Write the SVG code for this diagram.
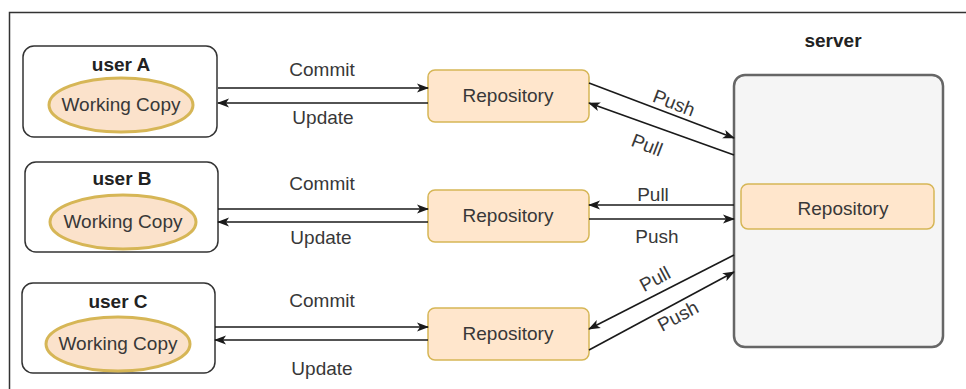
<svg xmlns="http://www.w3.org/2000/svg" width="966" height="389" viewBox="0 0 966 389">
  <style>
    .frame { fill: none; stroke: #333333; stroke-width: 1.5; }
    .user { fill: #ffffff; stroke: #333333; stroke-width: 1.5; }
    .wc { fill: #fbe2cb; stroke: #d6b656; stroke-width: 3; }
    .repo { fill: #ffe6cc; stroke: #d6b656; stroke-width: 1.5; }
    .server { fill: #f5f5f5; stroke: #666666; stroke-width: 2.5; }
    .edge { fill: none; stroke: #1a1a1a; stroke-width: 1.6; marker-end: url(#arrow); }
    text { font-family: "Liberation Sans", Arial, sans-serif; font-size: 19px; fill: #383838; text-anchor: middle; }
    .title { font-weight: bold; fill: #222222; }
  </style>
  <defs>
    <marker id="arrow" markerUnits="userSpaceOnUse" viewBox="0 0 12 10" refX="11" refY="5" markerWidth="12" markerHeight="10" orient="auto">
      <path d="M0,0.5 L12,5 L0,9.5 L3,5 Z" fill="#1a1a1a"/>
    </marker>
  </defs>

  <rect width="966" height="389" fill="#ffffff"/>
  <!-- page frame: top and left edges only -->
  <path class="frame" d="M9.5,389 V12.5 H966"/>

  <g id="userA">
    <rect class="user" x="23" y="46" width="194" height="91" rx="11"/>
    <text class="title" x="121" y="71">user A</text>
    <ellipse class="wc" cx="121" cy="105" rx="72" ry="27"/>
    <text x="121" y="111">Working Copy</text>
  </g>
  <g id="userB">
    <rect class="user" x="25" y="162" width="193" height="90" rx="11"/>
    <text class="title" x="122" y="185">user B</text>
    <ellipse class="wc" cx="123" cy="222" rx="73" ry="27"/>
    <text x="123" y="228">Working Copy</text>
  </g>
  <g id="userC">
    <rect class="user" x="22" y="283" width="193" height="90" rx="11"/>
    <text class="title" x="118" y="308">user C</text>
    <ellipse class="wc" cx="118" cy="344" rx="72" ry="27"/>
    <text x="118" y="350">Working Copy</text>
  </g>

  <g id="repoA">
    <rect class="repo" x="428" y="70" width="161" height="52" rx="7"/>
    <text x="508" y="102">Repository</text>
  </g>
  <g id="repoB">
    <rect class="repo" x="428" y="190" width="161" height="52" rx="7"/>
    <text x="508" y="222">Repository</text>
  </g>
  <g id="repoC">
    <rect class="repo" x="428" y="308" width="161" height="52" rx="7"/>
    <text x="508" y="340">Repository</text>
  </g>

  <g id="server">
    <text class="title" x="833" y="47">server</text>
    <rect class="server" x="734" y="75" width="209" height="272" rx="11"/>
    <g id="serverRepo">
      <rect class="repo" x="741" y="184" width="193" height="45" rx="7"/>
      <text x="843" y="215">Repository</text>
    </g>
  </g>

  <g id="connectors">
    <!-- user A -->
    <path class="edge" d="M218,88 H428"/>
    <path class="edge" d="M428,103 H218"/>
    <!-- user B -->
    <path class="edge" d="M218,209 H428"/>
    <path class="edge" d="M428,222 H218"/>
    <!-- user C -->
    <path class="edge" d="M215,327 H428"/>
    <path class="edge" d="M428,340 H215"/>
    <!-- repo A and server -->
    <path class="edge" d="M589,83 L734,138"/>
    <path class="edge" d="M734,155 L589,103"/>
    <!-- repo B and server -->
    <path class="edge" d="M734,205 H589"/>
    <path class="edge" d="M589,219 H734"/>
    <!-- repo C and server -->
    <path class="edge" d="M734,255 L589,329"/>
    <path class="edge" d="M589,350 L734,272"/>

    <!-- labels -->
    <text x="322" y="76">Commit</text>
    <text x="323" y="124">Update</text>
    <text x="322" y="190">Commit</text>
    <text x="321" y="244">Update</text>
    <text x="322" y="307">Commit</text>
    <text x="322" y="375">Update</text>

    <text transform="translate(674,103) rotate(21)" y="6.5">Push</text>
    <text transform="translate(647,145) rotate(21)" y="6.5">Pull</text>
    <text x="653" y="201">Pull</text>
    <text x="657" y="243">Push</text>
    <text transform="translate(655,279) rotate(-28)" y="6.5">Pull</text>
    <text transform="translate(678,316) rotate(-28)" y="6.5">Push</text>
  </g>
</svg>
